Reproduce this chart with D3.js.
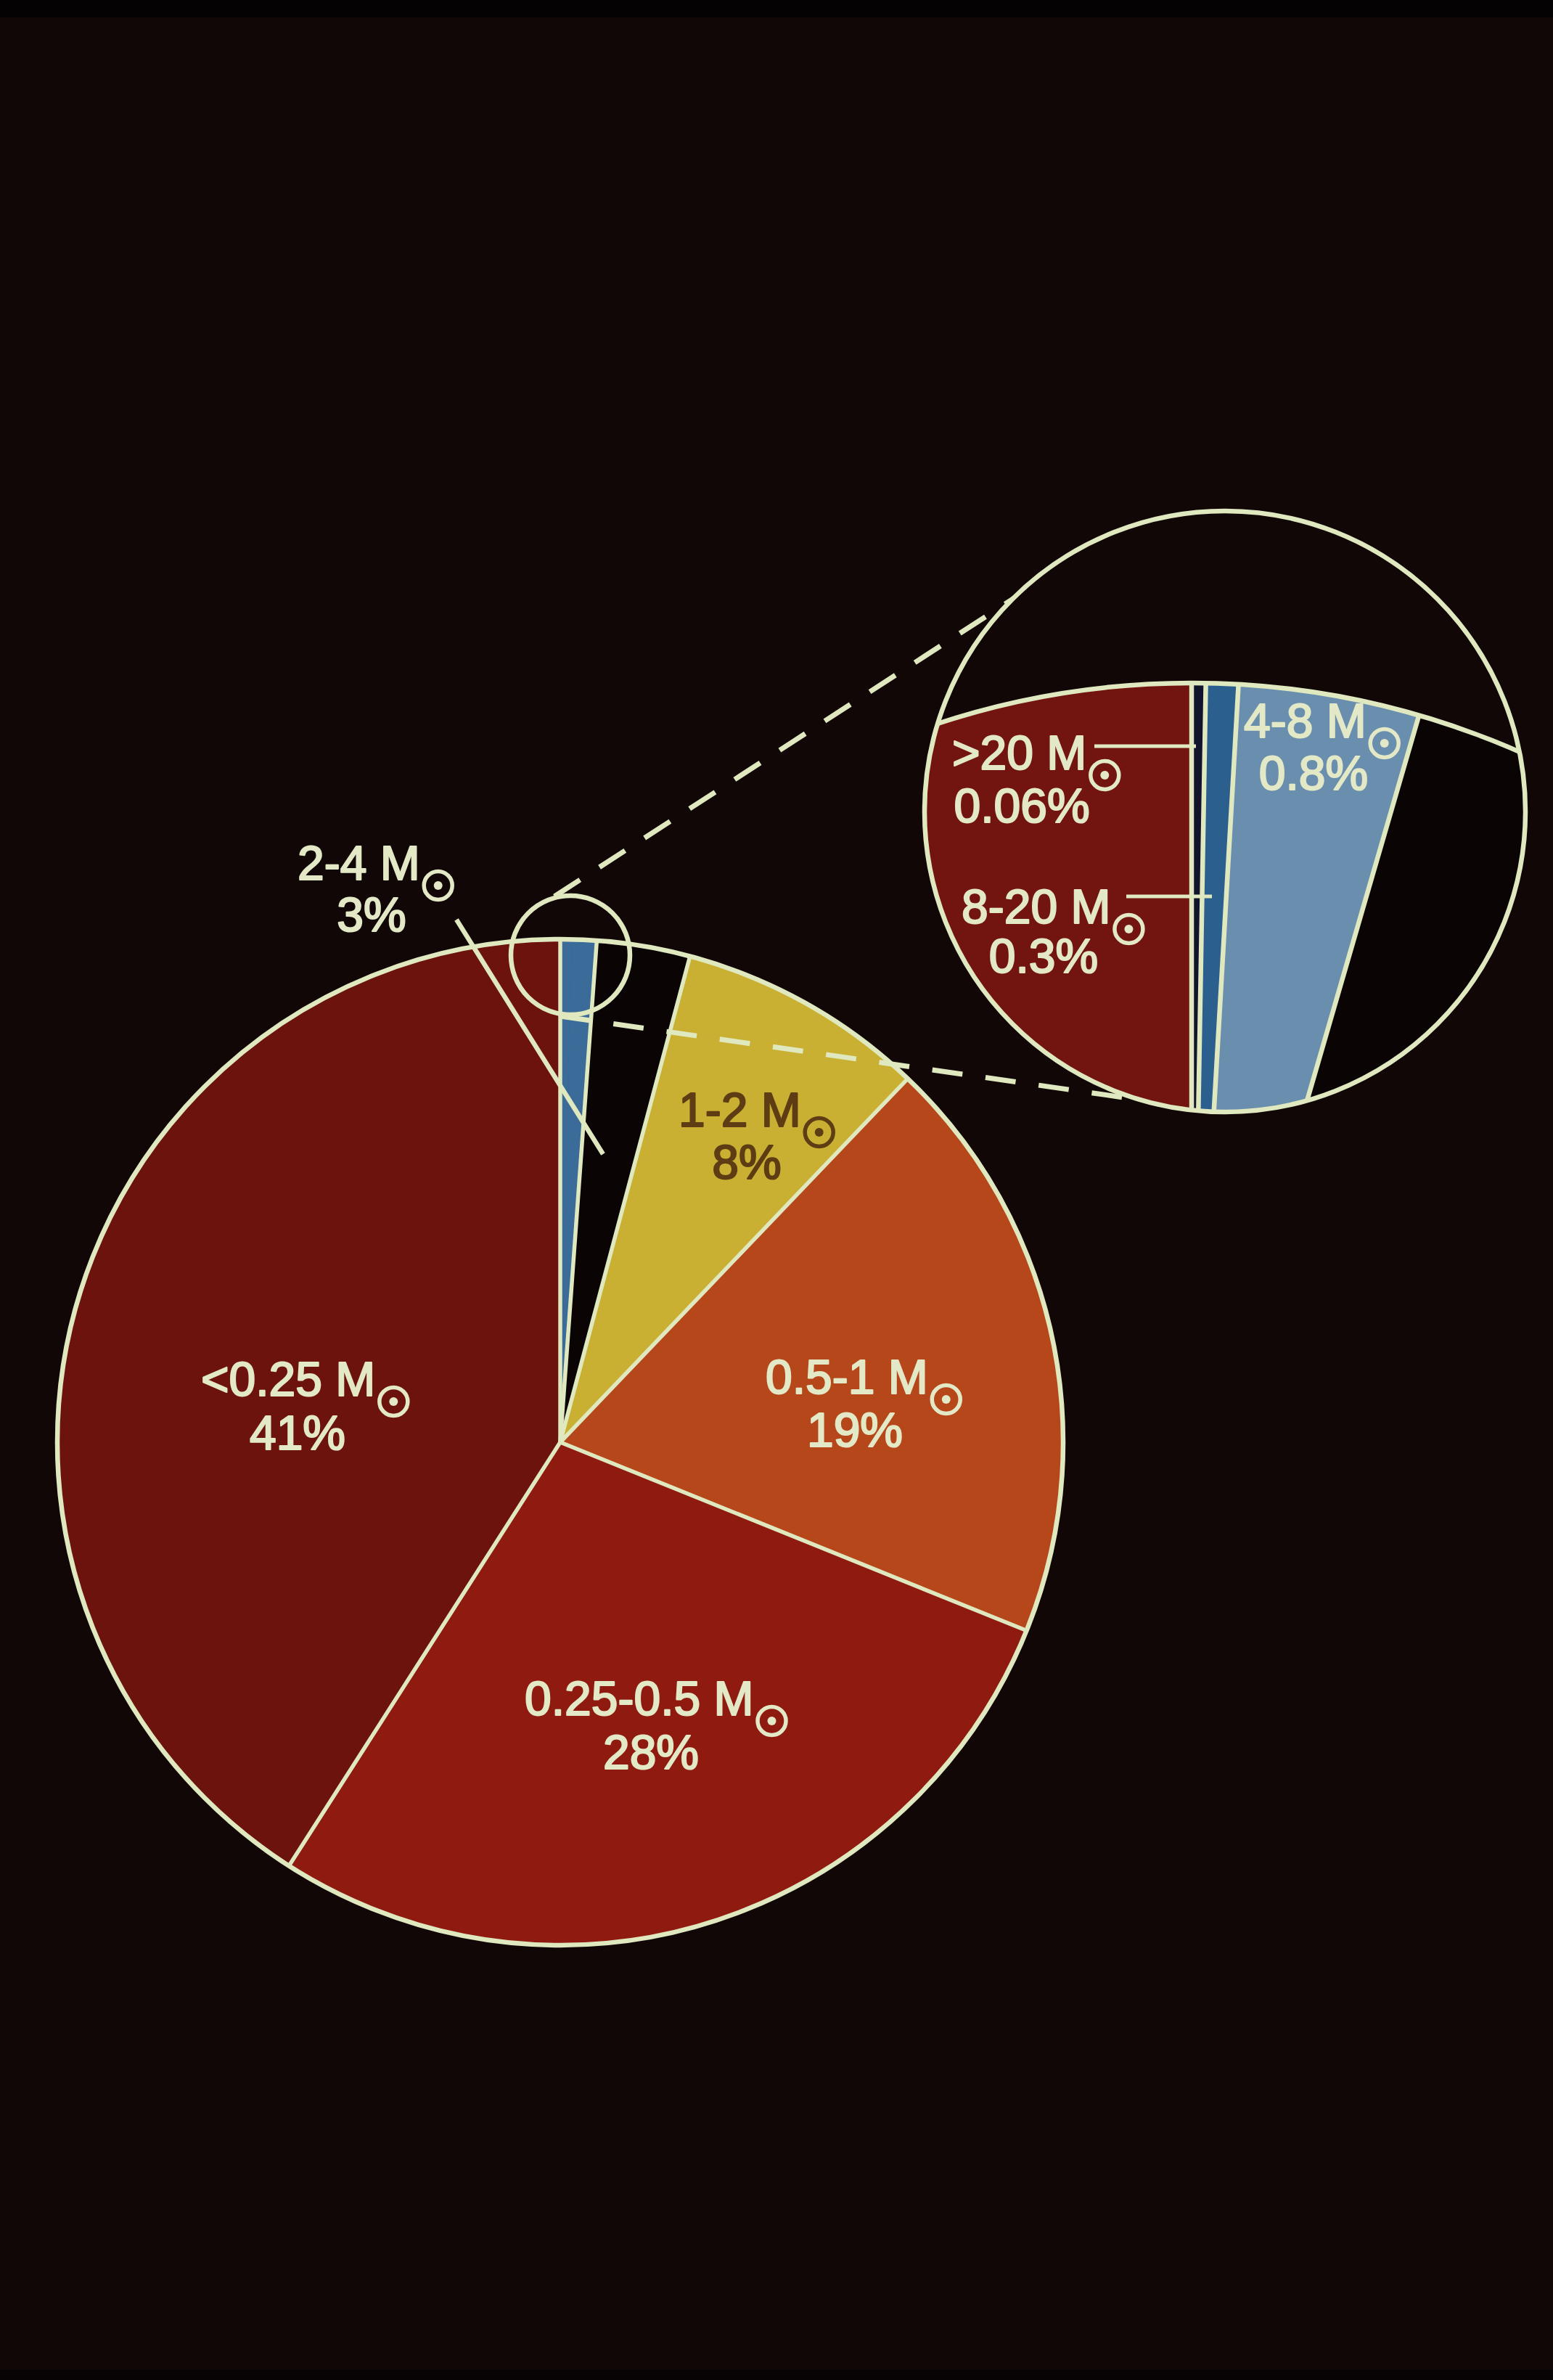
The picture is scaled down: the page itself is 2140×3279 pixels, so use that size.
<!DOCTYPE html>
<html><head><meta charset="utf-8">
<script src="https://cdn.jsdelivr.net/npm/d3@7"></script>
<style>html,body{margin:0;padding:0;background:#120707;} svg{display:block;}</style>
</head><body>
<svg id="chart" width="2140" height="3279"></svg>
<script>
// ---- data ----
const categories = [">20 M", "8-20 M", "4-8 M", "2-4 M", "1-2 M", "0.5-1 M", "0.25-0.5 M", "<0.25 M"];
const percentages = [0.06, 0.3, 0.8, 3, 8, 19, 28, 41];
const percentLabels = ["0.06%", "0.3%", "0.8%", "3%", "8%", "19%", "28%", "41%"];
const mainColors  = ["#3b6b98", "#3b6b98", "#3b6b98", "#0a0405", "#c9b032", "#b5471a", "#8e1a10", "#6c130d"];
const insetColors = ["#12132c", "#2b5f8d", "#6a8ead", "#0a0405", "#c9b032", "#b5471a", "#8e1a10", "#721410"];
// inset magnification: angle (deg) at each cumulative boundary
const insetDeg = [0, 1, 3.3, 16.2, 40, 100, 170, 240, 360];

// ---- layout ----
const W = 2140, H = 3279;
const LINE = "#e0e8bf", TXT = "#e3e9c6", DARKTXT = "#5e3d14";
const cx = 772, cy = 1987, R = 693;
const small = {x: 786, y: 1316, r: 82};
const inset = {x: 1688, y: 1118, r: 414};
const mag = {x: 1642, y: 2064, r: 1123};
const FONT = 66;
const LW = 6.5;

const svg = d3.select("#chart");
svg.append("rect").attr("width", W).attr("height", H).attr("fill", "#120707");
svg.append("rect").attr("width", W).attr("height", 24).attr("fill", "#050203");
svg.append("rect").attr("y", H - 14).attr("width", W).attr("height", 14).attr("fill", "#070304");

const data = categories.map((c, i) => ({cat: c, p: percentages[i], lab: percentLabels[i], main: mainColors[i], inset: insetColors[i]}));
const pie = d3.pie().sort(null).value(d => d.p);
const arcs = pie(data);

// ---- main pie ----
const arcGen = d3.arc().innerRadius(0).outerRadius(R);
const gMain = svg.append("g").attr("transform", `translate(${cx},${cy})`);
gMain.selectAll("path.slice").data(arcs).join("path").attr("class", "slice")
  .attr("d", arcGen).attr("fill", d => d.data.main).attr("stroke", d => d.data.main).attr("stroke-width", 1);
const mainBounds = arcs.filter((a, i) => a.data.main !== arcs[(i - 1 + arcs.length) % arcs.length].data.main);
gMain.selectAll("line.b").data(mainBounds).join("line").attr("class", "b")
  .attr("x1", 0).attr("y1", 0)
  .attr("x2", d => R * Math.sin(d.startAngle)).attr("y2", d => -R * Math.cos(d.startAngle))
  .attr("stroke", LINE).attr("stroke-width", LW - 1).attr("stroke-linecap", "round");
gMain.append("circle").attr("r", R).attr("fill", "none").attr("stroke", LINE).attr("stroke-width", LW);

// small magnifier circle
svg.append("circle").attr("cx", small.x).attr("cy", small.y).attr("r", small.r)
  .attr("fill", "none").attr("stroke", LINE).attr("stroke-width", LW);

// 2-4 leader line
svg.append("line").attr("x1", 629).attr("y1", 1267).attr("x2", 831).attr("y2", 1590)
  .attr("stroke", LINE).attr("stroke-width", LW);

// dashed connectors
const connectors = [
  {x1: 764, y1: 1235, x2: 1413, y2: 814},
  {x1: 772, y1: 1400, x2: 1555, y2: 1513}
];
svg.selectAll("line.dash").data(connectors).join("line").attr("class", "dash")
  .attr("x1", d => d.x1).attr("y1", d => d.y1).attr("x2", d => d.x2).attr("y2", d => d.y2)
  .attr("stroke", LINE).attr("stroke-width", 7).attr("stroke-dasharray", "42,32");

// ---- inset ----
const defs = svg.append("defs");
defs.append("clipPath").attr("id", "insetClip").append("circle")
  .attr("cx", inset.x).attr("cy", inset.y).attr("r", inset.r);
const gClip = svg.append("g").attr("clip-path", "url(#insetClip)");
gClip.append("circle").attr("cx", inset.x).attr("cy", inset.y).attr("r", inset.r).attr("fill", "#120707");
const insetAngle = d3.scaleLinear()
  .domain([0, ...arcs.map(a => a.endAngle)])
  .range(insetDeg.map(d => d * Math.PI / 180));
const magArc = d3.arc().innerRadius(0).outerRadius(mag.r);
const gMag = gClip.append("g").attr("transform", `translate(${mag.x},${mag.y})`);
const magArcs = arcs.map(a => ({data: a.data, startAngle: insetAngle(a.startAngle), endAngle: insetAngle(a.endAngle)}));
gMag.selectAll("path").data(magArcs).join("path")
  .attr("d", magArc).attr("fill", d => d.data.inset).attr("stroke", d => d.data.inset).attr("stroke-width", 1);
gMag.selectAll("line").data(magArcs).join("line")
  .attr("x1", 0).attr("y1", 0)
  .attr("x2", d => mag.r * Math.sin(d.startAngle)).attr("y2", d => -mag.r * Math.cos(d.startAngle))
  .attr("stroke", LINE).attr("stroke-width", LW);
gMag.append("circle").attr("r", mag.r).attr("fill", "none").attr("stroke", LINE).attr("stroke-width", LW);
svg.append("circle").attr("cx", inset.x).attr("cy", inset.y).attr("r", inset.r)
  .attr("fill", "none").attr("stroke", LINE).attr("stroke-width", LW);

// inset leader lines
const leaders = [
  {x1: 1508, y1: 1028, x2: 1648, y2: 1028},
  {x1: 1552, y1: 1235, x2: 1670, y2: 1235}
];
svg.selectAll("line.lead").data(leaders).join("line").attr("class", "lead")
  .attr("x1", d => d.x1).attr("y1", d => d.y1).attr("x2", d => d.x2).attr("y2", d => d.y2)
  .attr("stroke", LINE).attr("stroke-width", 5);

// ---- labels ----
const labelLayout = [
  {i: 7, x: 277,  y: 1923, x2: 410,  y2: 1997, fill: TXT},
  {i: 6, x: 723,  y: 2363, x2: 897,  y2: 2437, fill: TXT},
  {i: 5, x: 1055, y: 1920, x2: 1178, y2: 1993, fill: TXT},
  {i: 4, x: 935,  y: 1552, x2: 1029, y2: 1624, fill: DARKTXT},
  {i: 3, x: 410,  y: 1212, x2: 512,  y2: 1283, fill: TXT},
  {i: 0, x: 1312, y: 1060, x2: 1408, y2: 1133, fill: TXT},
  {i: 1, x: 1325, y: 1272, x2: 1438, y2: 1340, fill: TXT},
  {i: 2, x: 1714, y: 1016, x2: 1810, y2: 1088, fill: TXT}
];
const gLab = svg.append("g")
  .attr("font-family", "'Liberation Sans', Arial, Helvetica, sans-serif")
  .attr("font-size", FONT);
labelLayout.forEach(L => {
  const t1 = gLab.append("text").attr("x", L.x).attr("y", L.y).attr("fill", L.fill)
    .attr("stroke", L.fill).attr("stroke-width", 2.2).attr("stroke-linejoin", "round").text(categories[L.i]);
  const w = t1.node().getComputedTextLength();
  const sx = L.x + w + 25, sy = L.y + 8;
  gLab.append("circle").attr("cx", sx).attr("cy", sy).attr("r", 19.5)
    .attr("fill", "none").attr("stroke", L.fill).attr("stroke-width", 5.5);
  gLab.append("circle").attr("cx", sx).attr("cy", sy).attr("r", 6).attr("fill", L.fill);
  gLab.append("text").attr("x", L.x2).attr("y", L.y2).attr("text-anchor", "middle")
    .attr("fill", L.fill).attr("stroke", L.fill).attr("stroke-width", 2.2).attr("stroke-linejoin", "round")
    .text(percentLabels[L.i]);
});
</script>
</body></html>
